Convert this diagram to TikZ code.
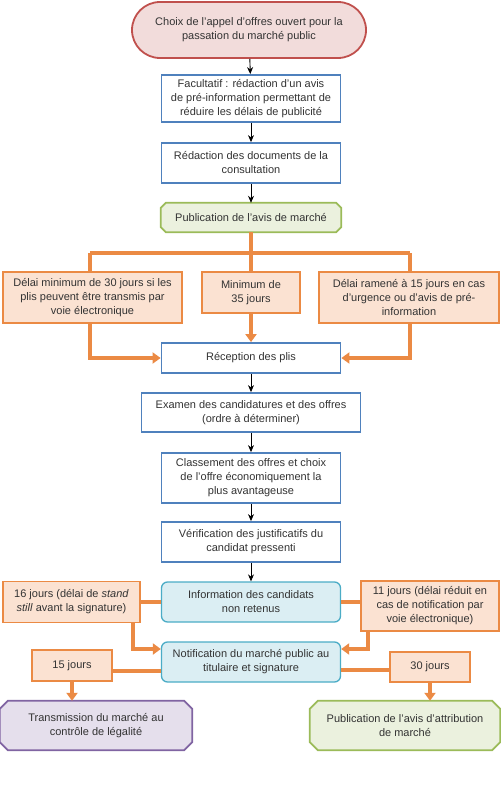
\documentclass[tikz,border=0pt]{standalone}
\usepackage{fontspec}
\setmainfont{Liberation Sans}
\usetikzlibrary{shapes.misc,arrows.meta,backgrounds}

\definecolor{boxblue}{HTML}{4F81BD}
\definecolor{choixline}{HTML}{C0504D}
\definecolor{choixfill}{HTML}{F2DCDB}
\definecolor{greenline}{HTML}{9BBB59}
\definecolor{greenfill}{HTML}{EBF1DE}
\definecolor{orangeline}{HTML}{EB8A44}
\definecolor{orangefill}{HTML}{FBE2D2}
\definecolor{infoline}{HTML}{4BACC6}
\definecolor{infofill}{HTML}{DBEEF3}
\definecolor{purpleline}{HTML}{8064A2}
\definecolor{purplefill}{HTML}{E5DFEC}
\definecolor{textgray}{HTML}{333333}

% outline of a box with cut corners
\newcommand\octpath[2]{([xshift=#2]#1.north west) -- ([xshift=-#2]#1.north east)
  -- ([yshift=-#2]#1.north east) -- ([yshift=#2]#1.south east)
  -- ([xshift=-#2]#1.south east) -- ([xshift=#2]#1.south west)
  -- ([yshift=#2]#1.south west) -- ([yshift=-#2]#1.north west) -- cycle}

\begin{document}
\begin{tikzpicture}[x=1pt,y=-1pt,
    every node/.style={font=\fontsize{11}{14}\selectfont,text=textgray,align=center,inner sep=2pt},
    stepbox/.style={draw=boxblue,line width=1.8pt,fill=white,minimum width=179pt},
    delaybox/.style={draw=orangeline,fill=orangefill,line width=1.8pt},
    infobox/.style={draw=infoline,fill=infofill,line width=1.3pt,rounded corners=6pt,
      minimum width=179pt,minimum height=40pt},
    flow/.style={-{Stealth[length=7pt,width=6pt]},line width=0.9pt},
    delayline/.style={draw=orangeline,line width=3.8pt},
    delayarrow/.style={delayline,-{Triangle[length=8pt,width=11pt]}}]

    \useasboundingbox (0,0) rectangle (500,794);

    % main column
    \node[rounded rectangle,draw=choixline,fill=choixfill,line width=1.8pt,
      minimum width=238pt,minimum height=56pt] (choix) at (249,30)
      {Choix de l’appel d’offres ouvert pour la\\passation du marché public};
    \node[stepbox,minimum height=47pt] (facult) at (251,98.5)
      {Facultatif : rédaction d'un avis\\de pré-information permettant de\\réduire les délais de publicité};
    \node[stepbox,minimum height=40pt] (redac) at (251,163)
      {Rédaction des documents de la\\consultation};
    \node[minimum width=180pt,minimum height=29pt] (publi) at (251,217.5)
      {Publication de l’avis de marché};

    % delays before reception
    \node[delaybox,minimum width=179pt,minimum height=51pt] (d30) at (92.5,297.5)
      {Délai minimum de 30 jours si les\\plis peuvent être transmis par\\voie électronique};
    \node[delaybox,minimum width=98pt,minimum height=41pt] (d35) at (251,292.5)
      {Minimum de\\35 jours};
    \node[delaybox,minimum width=180pt,minimum height=51pt] (d15) at (409,297.5)
      {Délai ramené à 15 jours en cas\\d’urgence ou d’avis de pré-\\information};

    \node[stepbox,minimum height=30pt] (recep) at (251,358) {Réception des plis};
    \node[stepbox,minimum width=219pt,minimum height=39pt] (examen) at (251,412.5)
      {Examen des candidatures et des offres\\(ordre à déterminer)};
    \node[stepbox,minimum height=50pt] (classement) at (251,478)
      {Classement des offres et choix\\de l’offre économiquement la\\plus avantageuse};
    \node[stepbox,minimum height=40pt] (verif) at (251,542)
      {Vérification des justificatifs du\\candidat pressenti};

    % information and notification
    \node[infobox] (info) at (251,602) {Information des candidats\\non retenus};
    \node[infobox] (notif) at (251,662) {Notification du marché public au\\titulaire et signature};
    \node[delaybox,minimum width=137pt,minimum height=41pt] (j16) at (71.5,602)
      {16 jours (délai de \textit{stand}\\\textit{still} avant la signature)};
    \node[delaybox,minimum width=138pt,minimum height=50pt] (j11) at (430,606)
      {11 jours (délai réduit en\\cas de notification par\\voie électronique)};
    \node[delaybox,minimum width=80pt,minimum height=31pt] (j15) at (72,665.5) {15 jours};
    \node[delaybox,minimum width=80pt,minimum height=30pt] (j30) at (430,667) {30 jours};

    \node[minimum width=192pt,minimum height=49pt] (trans) at (96,725.5)
      {Transmission du marché au\\contrôle de légalité};
    \node[minimum width=190pt,minimum height=49pt] (attrib) at (405,725.5)
      {Publication de l’avis d’attribution\\de marché};

    \begin{scope}[on background layer]
      \filldraw[draw=greenline,fill=greenfill,line width=1.8pt] \octpath{publi}{5pt};
      \filldraw[draw=purpleline,fill=purplefill,line width=1.8pt] \octpath{trans}{8pt};
      \filldraw[draw=greenline,fill=greenfill,line width=1.8pt] \octpath{attrib}{8pt};
    \end{scope}

    % black arrows
    \draw[flow] (choix) -- (facult);
    \draw[flow] (facult) -- (redac);
    \draw[flow] (redac) -- (publi);
    \draw[flow] (recep) -- (examen);
    \draw[flow] (examen) -- (classement);
    \draw[flow] (classement) -- (verif);
    \draw[flow] (verif) -- (info);

    % orange connectors
    \coordinate (splitL) at (90,253);
    \coordinate (splitR) at (410,253);
    \draw[delayline] (publi.south) -- (d35.north);
    \draw[delayline] (splitL) -- (splitR);
    \draw[delayline] (splitL) -- (splitL |- d30.north);
    \draw[delayline] (splitR) -- (splitR |- d15.north);
    \draw[delayarrow] (d35.south) -- (recep.north);
    \draw[delayarrow] (d30.south -| splitL) |- (recep.west);
    \draw[delayarrow] (d15.south -| splitR) |- (recep.east);

    \coordinate (notifL) at ([yshift=13pt]notif.west);
    \coordinate (notifR) at ([yshift=13pt]notif.east);
    \coordinate (notifLL) at ([yshift=-9pt]notif.west);
    \coordinate (notifRR) at ([yshift=-8pt]notif.east);
    \draw[delayline] (j16) -- (info);
    \draw[delayline] (info.east) -- (info.east -| j11.west);
    \draw[delayarrow] ([xshift=-8pt]j16.south east) |- (notifL);
    \draw[delayarrow] ([xshift=8pt]j11.south west) |- (notifR);
    \draw[delayline] (notifLL) -- (notifLL -| j15.east);
    \draw[delayline] (notifRR) -- (notifRR -| j30.west);
    \draw[delayarrow] (j15.south) -- (j15.south |- trans.north);
    \draw[delayarrow] (j30.south) -- (j30.south |- attrib.north);
\end{tikzpicture}
\end{document}
